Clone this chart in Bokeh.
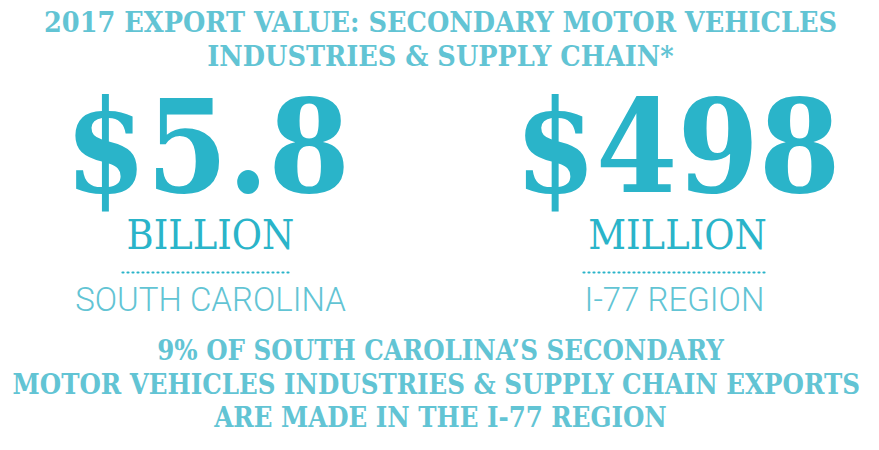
from bokeh.plotting import figure
from bokeh.models import Range1d
from bokeh.core.properties import value
from bokeh.embed import file_html
from bokeh.resources import INLINE

# ---- data ----
title_lines = ["2017 EXPORT VALUE: SECONDARY MOTOR VEHICLES", "INDUSTRIES & SUPPLY CHAIN*"]
amounts = ["$5.8", "$498"]
units = ["BILLION", "MILLION"]
regions = ["SOUTH CAROLINA", "I-77 REGION"]
footer_lines = ["9% OF SOUTH CAROLINA\u2019S SECONDARY",
                "MOTOR VEHICLES  INDUSTRIES & SUPPLY CHAIN EXPORTS",
                "ARE MADE IN THE I-77 REGION"]

W, H = 863, 434
p = figure(width=W, height=H, output_backend="svg", toolbar_location=None,
           x_range=Range1d(0, W), y_range=Range1d(H, 0), min_border=0)
p.axis.visible = False
p.grid.visible = False
p.outline_line_color = None
p.background_fill_color = "white"
p.border_fill_color = "white"

SLAB = value("DejaVu Serif Condensed")
SANS = value("'Roboto Light', Roboto")
DARK = "#2AB4C9"
LIGHT = "#62C4D4"

# title
p.text(x=[440, 440], y=[21, 55], text=title_lines, text_font=SLAB, text_font_style="bold",
       text_font_size="28.5px", text_color=LIGHT, text_align="center", text_baseline="alphabetic")

# big amounts
p.text(x=[207, 677], y=[146, 146], text=amounts, text_font=SLAB, text_font_style="bold",
       text_font_size="130px", text_color=DARK, text_align="center", text_baseline="alphabetic")
# units
p.text(x=[210, 677], y=[234, 234], text=units, text_font=SLAB, text_font_style="normal",
       text_font_size="41px", text_color=DARK, text_align="center", text_baseline="alphabetic")
# dotted separators
p.segment(x0=[122, 583], y0=[272, 272], x1=[292, 766], y1=[272, 272],
          line_color=DARK, line_width=2.2, line_dash="1 4", line_cap="round")
# regions
p.text(x=[210, 674], y=[299, 299], text=regions, text_font=SANS,
       text_font_size="33px", text_color=LIGHT, text_align="center", text_baseline="alphabetic")
# footer
p.text(x=[440, 440, 440], y=[349, 383, 416], text=footer_lines, text_font=SLAB, text_font_style="bold",
       text_font_size="27.3px", text_color=LIGHT, text_align="center", text_baseline="alphabetic")

open("out.html", "w").write(file_html(p, INLINE))
